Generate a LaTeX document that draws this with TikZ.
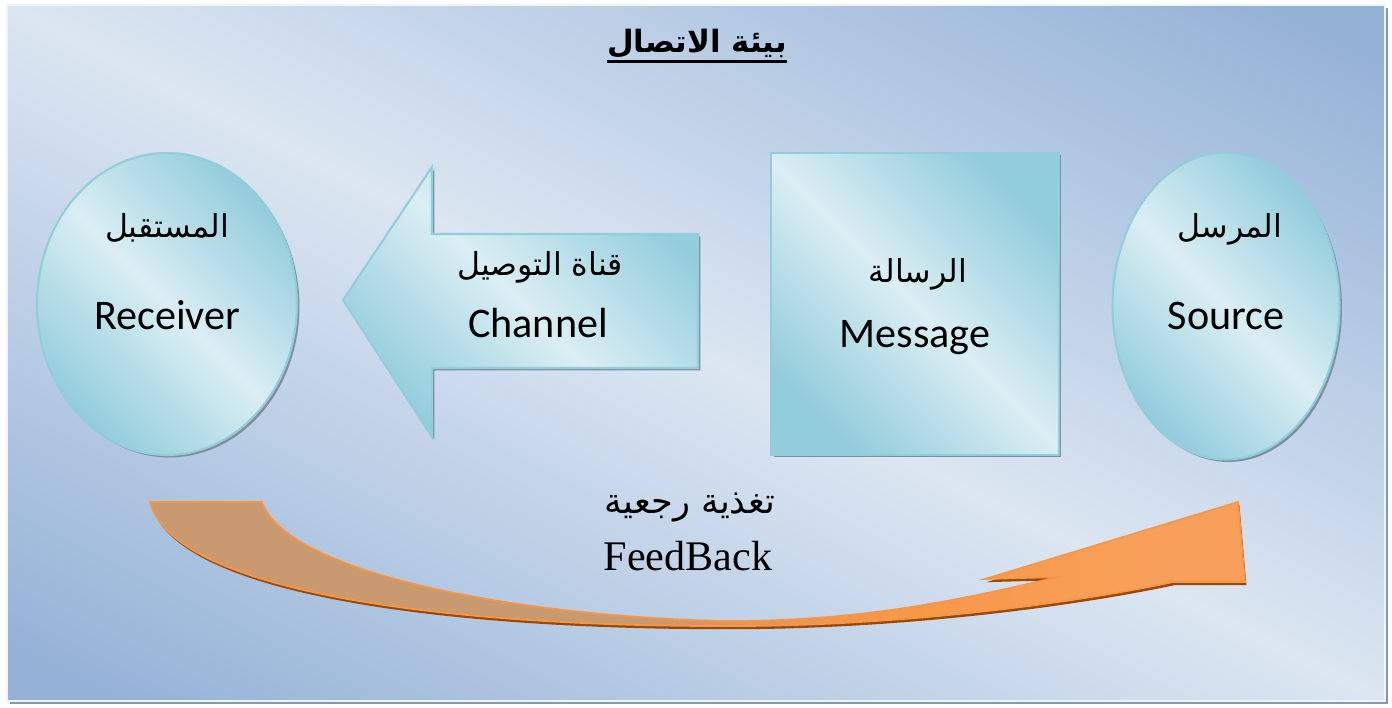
\documentclass[tikz,border=0pt]{standalone}
\usepackage{fontspec}
\setmainfont{Carlito}
\newfontfamily\arabicfont[Script=Arabic]{DejaVu Sans}
\newfontfamily\timesfont{Liberation Serif}
\TeXXeTstate=1
\usetikzlibrary{shapes.geometric,shadows}

\definecolor{bgdark}{HTML}{95B3D7}
\definecolor{bglight}{HTML}{DCE6F2}
\definecolor{cyandark}{HTML}{92CDDC}
\definecolor{cyanlight}{HTML}{DAEEF3}
\definecolor{shadowgrey}{HTML}{7E8E9E}
\definecolor{fborange}{HTML}{F79646}
\definecolor{fblight}{HTML}{FAC090}
\definecolor{fbtan}{HTML}{C9996F}
\definecolor{fbbrown}{HTML}{984807}

% tan tail fading into the orange head
\pgfdeclarehorizontalshading{feedbackshade}{100bp}{color(0bp)=(fbtan); color(25bp)=(fbtan);
  color(47bp)=(fbtan); color(58bp)=(fborange); color(70bp)=(fborange!75!fblight); color(100bp)=(fborange!75!fblight)}

\begin{document}
\begin{tikzpicture}[
  x=0.02cm, y=-0.02cm,
  panel/.style={top color=bgdark, bottom color=bgdark, middle color=bglight, shading angle=-45},
  glass/.style={draw=cyandark, line width=1.2pt, top color=cyandark, bottom color=cyandark,
    middle color=cyanlight, shading angle=-45,
    drop shadow={shadow xshift=1.4pt, shadow yshift=-1.4pt, fill=shadowgrey, opacity=1}},
  party/.style={glass, ellipse, inner sep=0pt},
  feedback/.style={draw=fborange, line width=1pt, shade, shading=feedbackshade,
    drop shadow={shadow xshift=0.8pt, shadow yshift=-1.8pt, fill=fbbrown, opacity=1}},
  artext/.style={font=\arabicfont\fontsize{18}{21}\selectfont, anchor=base},
  entext/.style={font=\fontsize{24}{28}\selectfont, anchor=base},
]
\useasboundingbox (0,0) rectangle (1392,707);
\fill[white] (0,0) rectangle (1392,707);

% Communication environment (frame): a square shading, stretched to width and clipped
\fill[shadowgrey!70!bgdark] (10,8) rectangle (1388,704);
\begin{scope}[transform canvas={xscale=1.98}]
  \clip (3.54,5) rectangle (699.49,701);
  \path[panel] (-100.5,-99) rectangle (803.5,805);
\end{scope}
\draw[white!55!bglight, line width=1pt] (7,5) rectangle (1385,701);

\node[font=\arabicfont\bfseries\fontsize{17.5}{21}\selectfont, anchor=base, inner xsep=0pt] (title) at (697,52)
  {\beginR بيئة الاتصال\endR};
\draw[line width=1.6pt] ([yshift=-5.6pt]title.base west) -- ([yshift=-5.6pt]title.base east);

% Receiver
\node[party, minimum width=5.2cm, minimum height=6.04cm] (receiver) at (167,304) {};
\node[artext] (receiverAr) at (167,237) {\beginR المستقبل\endR};
\node[entext] (receiverEn) at (167,329) {Receiver};

% Channel (block arrow)
\path[glass] (343,300) -- (432,167) -- (432,234) -- (698,234) -- (698,368) -- (432,368) -- (432,437) -- cycle;
\node[artext] (channelAr) at (540,275) {\beginR قناة التوصيل\endR};
\node[entext] (channelEn) at (538,337) {Channel};

% Message
\node[glass, minimum width=5.76cm, minimum height=6.04cm] (message) at (915,304) {};
\node[artext] (messageAr) at (918,282) {\beginR الرسالة\endR};
\node[entext] (messageEn) at (915,347) {Message};

% Source
\node[party, minimum width=4.54cm, minimum height=6.14cm] (source) at (1226,306) {};
\node[artext] (sourceAr) at (1230,237) {\beginR المرسل\endR};
\node[entext] (sourceEn) at (1226,329) {Source};

% FeedBack (curved arrow, receiver back to source)
\path[feedback] (150,502) -- (262,502)
  .. controls (285,570) and (500,615) .. (720,621)
  .. controls (860,622) and (960,600) .. (1058,577)
  -- (985,579) -- (1238,502) -- (1245,582) -- (1173,582)
  .. controls (1080,602) and (900,627) .. (720,626)
  .. controls (460,626) and (175,595) .. (150,502) -- cycle;
\node[artext, font=\arabicfont\fontsize{20}{24}\selectfont] (feedbackAr) at (690,513) {\beginR تغذية رجعية\endR};
\node[anchor=base, font=\timesfont\fontsize{24}{28}\selectfont] (feedbackEn) at (688,570) {FeedBack};

\end{tikzpicture}
\end{document}
